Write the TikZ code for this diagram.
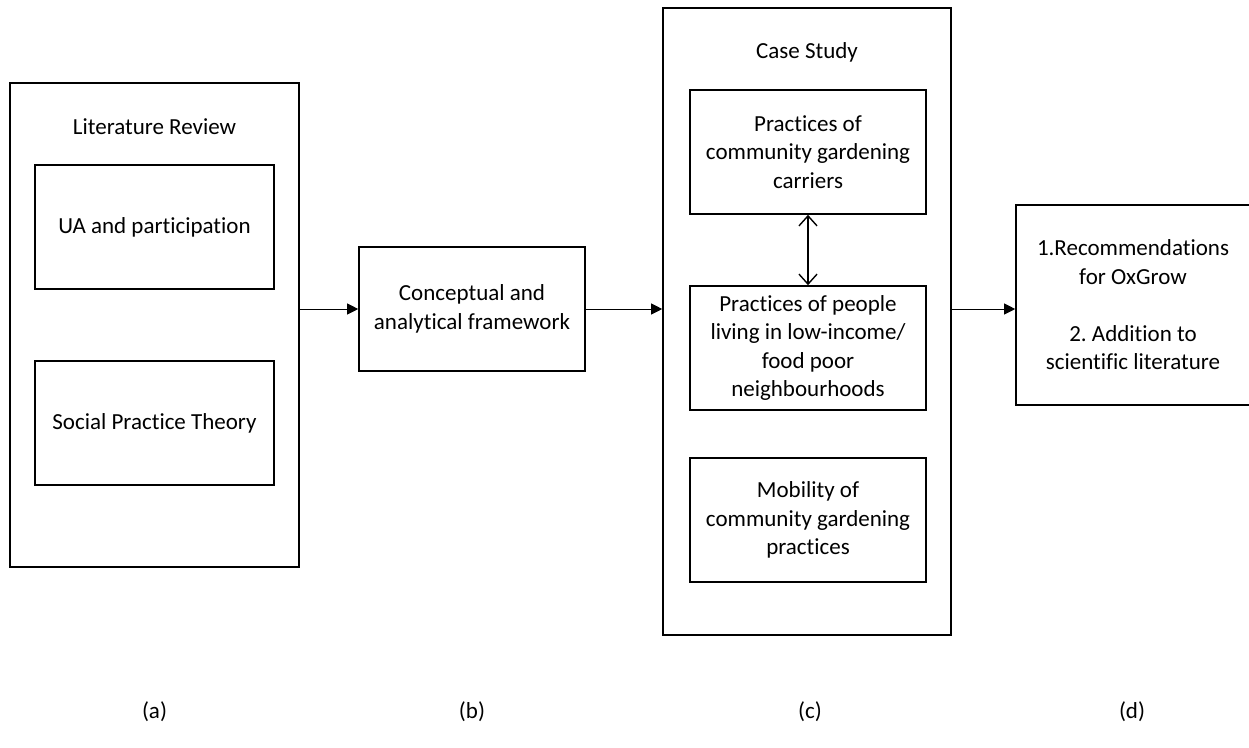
\documentclass[tikz,border=0pt]{standalone}
\usepackage{fontspec}
\setmainfont{Carlito}[Ligatures={NoCommon}]
\usetikzlibrary{arrows.meta}
\begin{document}
\begin{tikzpicture}[x=1pt,y=-1pt,
  every node/.style={font=\fontsize{23}{28.5}\selectfont, align=center, inner sep=0pt},
  frame/.style={draw, line width=1.6pt},
  flow/.style={-{Triangle[length=11pt,width=11pt]}, line width=0.8pt},
  link/.style={{Straight Barb[length=10pt,width=18pt]}-{Straight Barb[length=10pt,width=18pt]}, line width=1.4pt}]
  \useasboundingbox (0,0) rectangle (1249,747);
  \clip (0,0) rectangle (1249,747);

  % (a) literature review
  \node[frame, minimum width=289pt, minimum height=484pt] (lit) at (154.5,325) {};
  \node (littitle) at (154.5,127) {Literature Review};
  \node[frame, minimum width=239pt, minimum height=124pt] (ua) at (154.5,227) {UA and participation};
  \node[frame, minimum width=239pt, minimum height=124pt] (spt) at (154.5,423) {Social Practice Theory};

  % (b) framework
  \node[frame, minimum width=226pt, minimum height=124pt] (conc) at (472,309) {Conceptual and\\analytical framework};

  % (c) case study
  \node[frame, minimum width=288pt, minimum height=627pt] (case) at (807,321.5) {};
  \node (casetitle) at (807,52) {Case Study};
  \node[frame, minimum width=236pt, minimum height=124pt] (carr) at (808,152) {Practices of\\community gardening\\carriers};
  \node[frame, minimum width=236pt, minimum height=124pt] (people) at (808,348) {Practices of people\\living in low-income/\\food poor\\neighbourhoods};
  \node[frame, minimum width=236pt, minimum height=124pt] (mob) at (808,520) {Mobility of\\community gardening\\practices};

  % (d) outcomes
  \node[frame, minimum width=234pt, minimum height=200pt] (out) at (1133,305) {1.Recommendations\\for OxGrow\\[28.5pt]2.\ Addition to\\scientific literature};

  % connectors
  \draw[flow] (lit.east |- conc.west) -- (conc.west);
  \draw[flow] (conc.east) -- (conc.east -| case.west);
  \draw[flow] (conc.east -| case.east) -- (conc.east -| out.west);
  \draw[link] (carr.south) -- (people.north);

  % column labels
  \node (la) at (154.5,712) {(a)};
  \node (lb) at (472,712) {(b)};
  \node (lc) at (810,712) {(c)};
  \node (ld) at (1132,712) {(d)};
\end{tikzpicture}
\end{document}
